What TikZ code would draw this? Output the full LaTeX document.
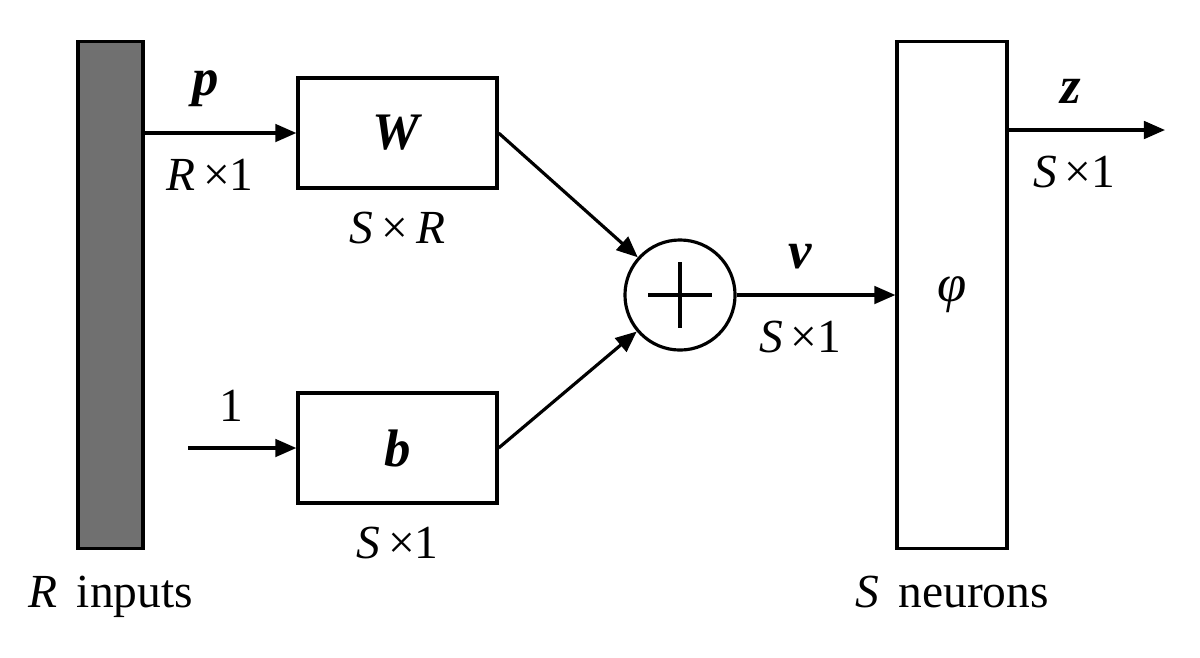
\documentclass[tikz,border=0pt]{standalone}
\usepackage{fontspec}
\setmainfont{Liberation Serif}
\usetikzlibrary{arrows.meta}
\definecolor{barGray}{RGB}{112,112,112}

\begin{document}
\begin{tikzpicture}[x=0.01cm,y=-0.01cm,line width=0.9pt,
		font=\fontsize{13.5}{15}\selectfont,
		-{Triangle[length=6pt,width=5pt]},shorten >=0pt,
		box node/.style={rectangle,draw,-,minimum width=1.99cm,minimum height=1.10cm,inner sep=0pt},
		layer node/.style={rectangle,draw,-,minimum width=1.10cm,minimum height=5.06cm,inner sep=0pt},
		sum node/.style={circle,draw,-,minimum size=1.10cm,inner sep=0pt},
		lbl/.style={inner sep=1pt}]
		
		\useasboundingbox (0,0) rectangle (1200,657);
		
		\node[layer node,fill=barGray,minimum width=0.65cm] (in) at (110.5,295) {};
		\node[box node] (W) at (397.5,133) {\fontsize{15}{17}\selectfont\textbf{\textit{W}}};
		\node[box node] (b) at (397.5,448) {\fontsize{15}{17}\selectfont\textbf{\textit{b}}};
		\node[sum node] (sum) at (680,295) {};
		\node[layer node] (phi) at (952,295) {\fontsize{15}{17}\selectfont\textit{φ}};
		\coordinate (one) at (188,448);
		\coordinate (out) at (1165,130);
		
		\draw[-] (sum.center) ++(-32,0) -- ++(64,0);
		\draw[-] (sum.center) ++(0,-33) -- ++(0,66);
		
		\path[] (in.east |- W.west) edge node[lbl,pos=0.4,above=6pt] {\fontsize{15}{17}\selectfont\textbf{\textit{p}}} node[lbl,pos=0.43,below=6pt] {\textit{R}\,×1} (W.west);
		\path[] (one) edge node[lbl,pos=0.4,above=6pt] {1} (b.west);
		\path[] (W.east) edge (sum);
		\path[] (b.east) edge (sum);
		\path[] (sum) edge node[lbl,pos=0.4,above=6pt] {\fontsize{15}{17}\selectfont\textbf{\textit{v}}} node[lbl,pos=0.4,below=6pt] {\textit{S}\,×1} (phi.west |- sum);
		\path[] (phi.east |- out) edge node[lbl,pos=0.4,above=6pt] {\fontsize{15}{17}\selectfont\textbf{\textit{z}}} node[lbl,pos=0.42,below=6pt] {\textit{S}\,×1} (out);
		
		\node[lbl,below=5pt] at (W.south) {\textit{S}\,×\,\textit{R}};
		\node[lbl,below=5pt] at (b.south) {\textit{S}\,×1};
		\node[lbl,below=6pt] at (in.south) {\textit{R}\, inputs};
		\node[lbl,below=6pt] at (phi.south) {\textit{S}\, neurons};
		
		\end{tikzpicture}
\end{document}
